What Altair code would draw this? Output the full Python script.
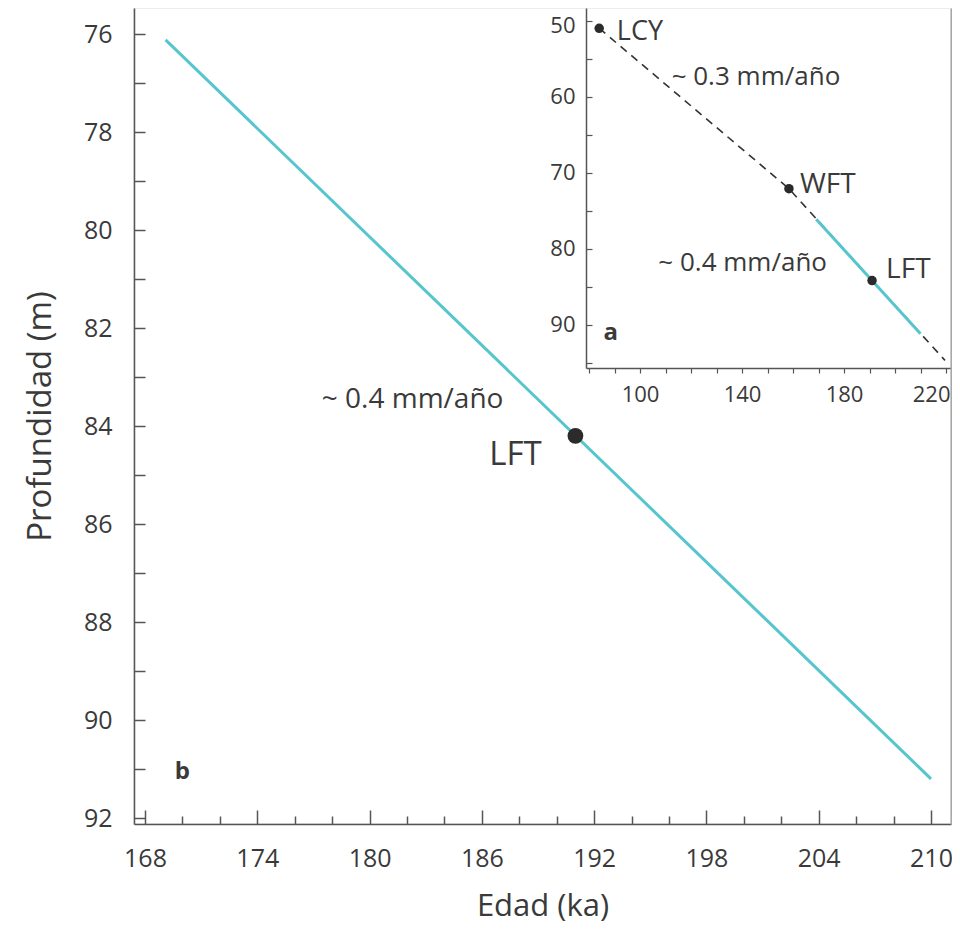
import altair as alt
import pandas as pd

# ---------------- data ----------------
# panel b: age-depth line segment and LFT tephra
line_age = [169.1, 210.0]
line_depth = [76.12, 91.2]
lft_age = [191.0]
lft_depth = [84.2]

# panel a (inset): tephra tie points and dashed age model
tephra_names = ["LCY", "WFT", "LFT"]
tephra_age = [84.0, 158.4, 191.0]
tephra_depth = [51.0, 72.1, 84.2]
dash_age = [84.0, 158.4, 219.6]
dash_depth = [51.0, 72.1, 94.7]

# ticks
main_x_labels = [168, 174, 180, 186, 192, 198, 204, 210]
main_x_minor = [170, 172, 176, 178, 182, 184, 188, 190, 194, 196, 200, 202, 206, 208]
main_y_labels = [76, 78, 80, 82, 84, 86, 88, 90, 92]
main_y_ticks = list(range(76, 93))
inset_x_ticks = list(range(80, 221, 10))
inset_y_labels = [50, 60, 70, 80, 90]
inset_y_ticks = list(range(50, 96, 5))

# annotations (data coordinates)
main_ann_text = ["~ 0.4 mm/año", "LFT", "b"]
main_ann_age = [182.3, 187.8, 170.0]
main_ann_depth = [83.47, 84.59, 91.06]

inset_ann_text = ["LCY", "WFT", "LFT", "~ 0.3 mm/año", "~ 0.4 mm/año", "a"]
inset_ann_age = [90.9, 162.7, 196.5, 112.4, 107.2, 88.5]
inset_ann_depth = [51.45, 71.6, 82.8, 57.45, 81.9, 91.1]

# ---------------- style ----------------
FONT = "Open Sans"
TXT = "#3a3a3a"
AX = "#555555"
CYAN = "#56c5cd"
DOT = "#2b2b2b"

W, H = 817, 816

xs_main = alt.Scale(domain=[167.412, 211.07], range=[0, W], nice=False, zero=False)
ys_main = alt.Scale(domain=[75.469, 92.122], range=[0, H], nice=False, zero=False)
xs_in = alt.Scale(domain=[78.82, 221.96], range=[452, W], nice=False, zero=False)
ys_in = alt.Scale(domain=[48.33, 95.70], range=[0, 360], nice=False, zero=False)

line_df = pd.DataFrame({"age": line_age, "depth": line_depth})
lft_df = pd.DataFrame({"age": lft_age, "depth": lft_depth})
teph_df = pd.DataFrame({"name": tephra_names, "age": tephra_age, "depth": tephra_depth})
dash_df = pd.DataFrame({"age": dash_age, "depth": dash_depth})

common_axis = dict(grid=False, labelOverlap=False, labelBound=False)

# main line + label axes
main_line = alt.Chart(line_df).mark_line(color=CYAN, strokeWidth=3).encode(
    x=alt.X("age:Q", scale=xs_main, axis=alt.Axis(
        orient="bottom", values=main_x_labels, ticks=False, domain=True, domainColor=AX,
        domainWidth=1.5, labelPadding=22, labelFontSize=25, labelColor=TXT, labelFlush=False,
        title="Edad (ka)", titleFontSize=31, titlePadding=20, titleColor=TXT,
        titleFontWeight="normal", **common_axis)),
    y=alt.Y("depth:Q", scale=ys_main, axis=alt.Axis(
        orient="left", values=main_y_labels, ticks=False, domain=True, domainColor=AX,
        domainWidth=1.5, labelPadding=22, labelFontSize=25, labelColor=TXT, labelFlush=False,
        title="Profundidad (m)", titleFontSize=33, titlePadding=26, titleColor=TXT,
        titleFontWeight="normal", **common_axis)),
)

# inward ticks of main panel
tick_major = alt.Chart(line_df).mark_point(opacity=0).encode(
    x=alt.X("age:Q", scale=xs_main, axis=alt.Axis(
        orient="bottom", values=main_x_labels, domain=False, labels=False, ticks=True,
        tickSize=14, tickWidth=1.5, tickColor=AX, offset=-14, title=None, grid=False)),
    y=alt.Y("depth:Q", scale=ys_main, axis=alt.Axis(
        orient="left", values=main_y_ticks, domain=False, labels=False, ticks=True,
        tickSize=11, tickWidth=1.5, tickColor=AX, offset=-11, title=None, grid=False)),
)
tick_minor = alt.Chart(line_df).mark_point(opacity=0).encode(
    x=alt.X("age:Q", scale=xs_main, axis=alt.Axis(
        orient="bottom", values=main_x_minor, domain=False, labels=False, ticks=True,
        tickSize=8, tickWidth=1.5, tickColor=AX, offset=-8, title=None, grid=False)),
    y=alt.Y("depth:Q", scale=ys_main, axis=alt.Axis(
        orient="right", domain=True, domainColor="#a8a8a8", domainWidth=2, labels=False,
        ticks=False, title=None, grid=False)),
)

lft_point = alt.Chart(lft_df).mark_circle(color=DOT, opacity=1, size=250).encode(
    x=alt.X("age:Q", scale=xs_main, axis=None),
    y=alt.Y("depth:Q", scale=ys_main, axis=None),
)


def text_layer(label, x, y, xs, ys, size, weight="normal", align="center"):
    df = pd.DataFrame({"label": [label], "x": [x], "y": [y]})
    return alt.Chart(df).mark_text(
        font=FONT, fontSize=size, fontWeight=weight, color=TXT, align=align,
        baseline="middle").encode(
        x=alt.X("x:Q", scale=xs, axis=None),
        y=alt.Y("y:Q", scale=ys, axis=None),
        text="label:N",
    )


main_styles = [(28, "normal", "center"), (33, "normal", "center"), (24, "bold", "center")]
main_texts = [text_layer(t, a, d, xs_main, ys_main, *s)
              for t, a, d, s in zip(main_ann_text, main_ann_age, main_ann_depth, main_styles)]

# inset
inset_dash = alt.Chart(dash_df).mark_line(color="#333333", strokeWidth=1.6, strokeDash=[8, 6]).encode(
    x=alt.X("age:Q", scale=xs_in, axis=alt.Axis(
        orient="bottom", offset=-456, values=inset_x_ticks,
        labelExpr="datum.value % 40 == 20 ? datum.label : ''",
        labelFlush=14, labelFlushOffset=4,
        ticks=True, tickSize=5, tickWidth=1.2, tickColor=AX, domainColor=AX, domainWidth=1.5,
        labelFontSize=22, labelPadding=11, labelColor=TXT, title=None, **common_axis)),
    y=alt.Y("depth:Q", scale=ys_in, axis=alt.Axis(
        orient="left", offset=-452, values=inset_y_labels, ticks=False, domainColor=AX,
        domainWidth=1.5, labelFontSize=22, labelPadding=11, labelColor=TXT, title=None,
        labelOffset={"condition": {"test": "datum.value == 50", "value": 5}, "value": 0},
        labelFlush=False, **common_axis)),
)
inset_yticks = alt.Chart(dash_df).mark_point(opacity=0).encode(
    x=alt.X("age:Q", scale=xs_in, axis=None),
    y=alt.Y("depth:Q", scale=ys_in, axis=alt.Axis(
        orient="left", offset=-458, values=inset_y_ticks, domain=False, labels=False,
        ticks=True, tickSize=6, tickWidth=1.2, tickColor=AX, title=None, grid=False)),
)
inset_line = alt.Chart(line_df).mark_line(color=CYAN, strokeWidth=3).encode(
    x=alt.X("age:Q", scale=xs_in, axis=None),
    y=alt.Y("depth:Q", scale=ys_in, axis=None),
)
inset_points = alt.Chart(teph_df).mark_circle(color=DOT, opacity=1, size=90).encode(
    x=alt.X("age:Q", scale=xs_in, axis=None),
    y=alt.Y("depth:Q", scale=ys_in, axis=None),
)
inset_styles = [(27, "normal", "left"), (28, "normal", "left"), (28, "normal", "left"),
                (26, "normal", "left"), (26, "normal", "left"), (24, "bold", "center")]
inset_texts = [text_layer(t, a, d, xs_in, ys_in, *s)
               for t, a, d, s in zip(inset_ann_text, inset_ann_age, inset_ann_depth, inset_styles)]

chart = alt.layer(
    main_line, tick_major, tick_minor, lft_point, *main_texts,
    inset_dash, inset_yticks, inset_line, inset_points, *inset_texts,
).resolve_scale(
    x="independent", y="independent"
).resolve_axis(
    x="independent", y="independent"
).properties(
    width=W, height=H,
    autosize=alt.AutoSizeParams(type="none"),
    padding={"left": 126, "top": 0, "right": 1, "bottom": 104},
).configure_view(
    stroke="#e8e8e8", strokeWidth=1.5
).configure_axis(
    labelFont=FONT, titleFont=FONT
).configure_text(font=FONT)

chart.save("out.html", embed_options={"renderer": "svg", "actions": False})
